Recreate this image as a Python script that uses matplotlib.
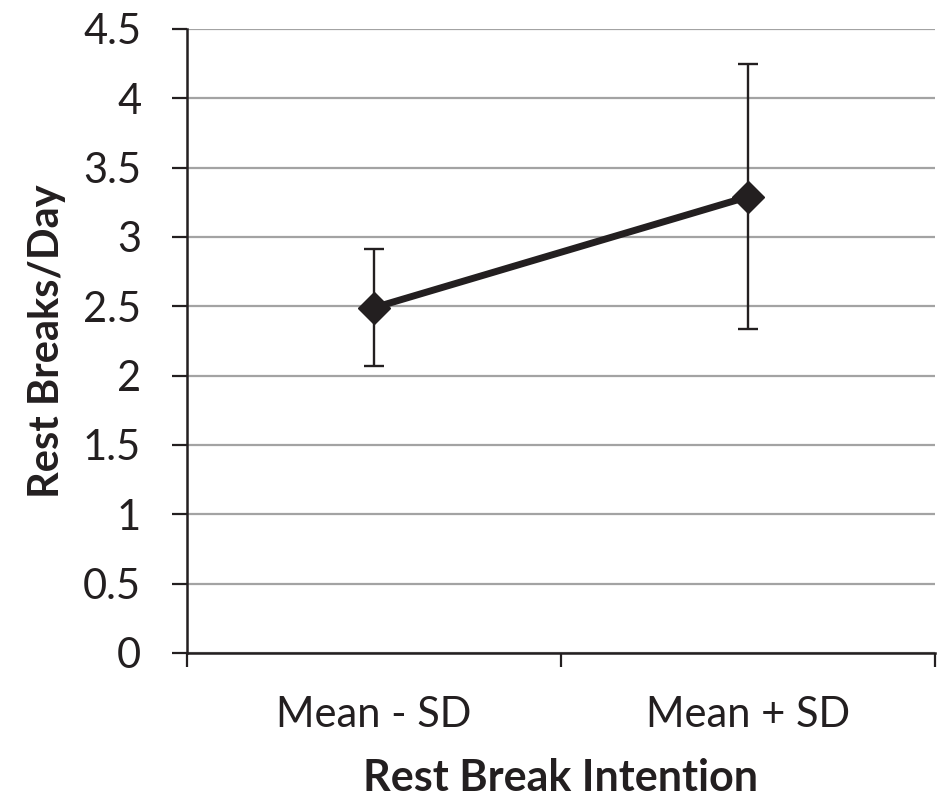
import matplotlib.pyplot as plt
from matplotlib.ticker import FixedLocator, NullFormatter

# values
groups = ['Mean - SD', 'Mean + SD']
breaks_per_day = [2.49, 3.29]
sd = [0.42, 0.955]
y_ticks = [0, 0.5, 1, 1.5, 2, 2.5, 3, 3.5, 4, 4.5]
y_labels = ['0', '0.5', '1', '1.5', '2', '2.5', '3', '3.5', '4', '4.5']

ink = '#231f20'
plt.rcParams['font.family'] = ['Lato', 'DejaVu Sans']

fig = plt.figure(figsize=(9.42, 8.01), dpi=100)
ax = fig.add_axes([0.1985, 0.1848, 0.794, 0.779])

xpos = [i + 0.5 for i in range(len(groups))]
ax.errorbar(xpos, breaks_per_day, yerr=sd, color=ink, lw=5,
            marker='D', markersize=16, ecolor=ink, elinewidth=1.7,
            capsize=7, capthick=1.7, zorder=3)

ax.set_xlim(0, len(groups))
ax.set_ylim(0, 4.5)
ax.set_yticks(y_ticks)
ax.set_yticklabels(y_labels)
ax.yaxis.grid(True, color='#a3a3a3', lw=1.6)
ax.set_axisbelow(True)

# category ticks on bin edges, labels in the middle
ax.xaxis.set_major_locator(FixedLocator([0, 1, 2]))
ax.xaxis.set_major_formatter(NullFormatter())
ax.xaxis.set_minor_locator(FixedLocator(xpos))
ax.set_xticklabels(groups, minor=True)
ax.tick_params(axis='x', which='major', length=10, width=1.6, color=ink)
ax.tick_params(axis='x', which='minor', length=0, pad=31, labelsize=30, labelcolor=ink)
ax.tick_params(axis='y', length=11, width=1.6, color=ink, labelsize=30, labelcolor=ink, pad=22)

for s in ['top', 'right']:
    ax.spines[s].set_visible(False)
for s in ['left', 'bottom']:
    ax.spines[s].set_color(ink)
    ax.spines[s].set_linewidth(1.8)

ax.set_xlabel('Rest Break Intention', fontsize=31, fontweight='bold', color=ink, labelpad=17)
ax.set_ylabel('Rest Breaks/Day', fontsize=30, fontweight='bold', color=ink, labelpad=12)

fig.savefig('out.png', dpi=100)
